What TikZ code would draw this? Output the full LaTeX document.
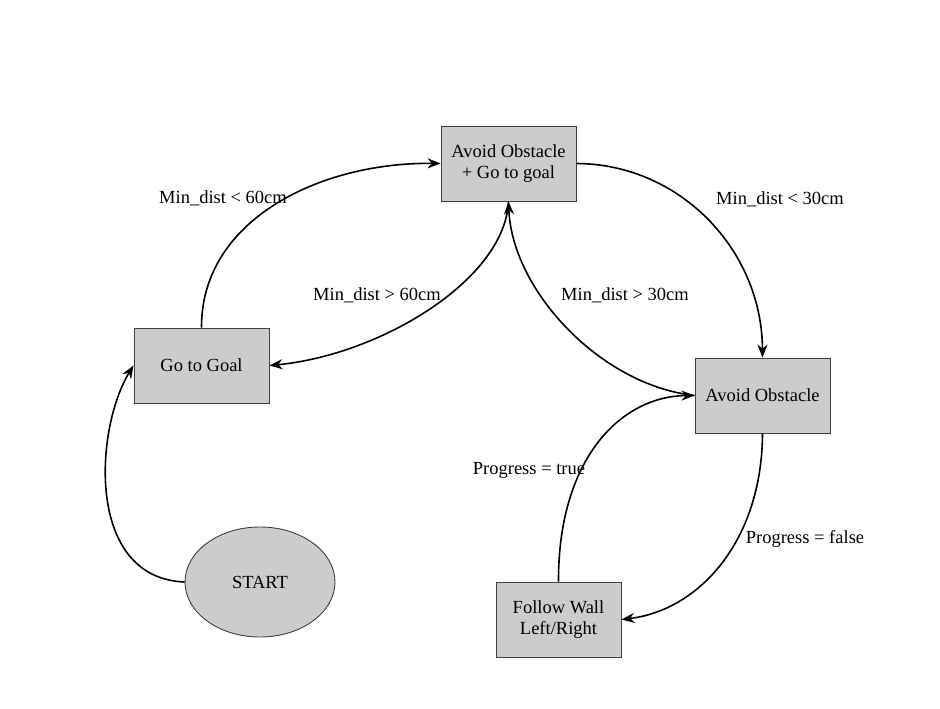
\documentclass[tikz,border=0pt]{standalone}
\usepackage{fontspec}
\setmainfont{Liberation Serif}
\usetikzlibrary{arrows.meta,shapes.geometric}
\tikzset{
  state/.style={draw=black!75, fill=black!20, line width=0.9pt, minimum width=135pt, minimum height=75pt, align=center, inner sep=2pt},
  startstate/.style={ellipse, draw=black!75, fill=black!20, line width=0.9pt, minimum width=150pt, minimum height=110pt, inner sep=0pt},
  trans/.style={line width=1.6pt, -{Stealth[length=13pt,width=10pt]}},
  cond/.style={inner sep=0.75pt}
}
\begin{document}
\begin{tikzpicture}[x=1pt,y=1pt,yscale=-1,xscale=1,font=\fontsize{18.5}{21.5}\selectfont]
\useasboundingbox (0,0) rectangle (940,709);
% states
\draw (508.5,163.5) node [state] (avoidgoal) {Avoid Obstacle\\+ Go to goal};
\draw (201.5,365.5) node [state] (gotogoal) {Go to Goal};
\draw (762.5,395.5) node [state] (avoid) {Avoid Obstacle};
\draw (558.5,619.5) node [state, minimum width=125pt] (wall) {Follow Wall\\Left/Right};
\draw (260,582) node [startstate] (start) {START};
% transitions
\draw [trans] (start.west) .. controls (85,578) and (95,428) .. (gotogoal.west);
\draw [trans] (gotogoal.north) .. controls (201,220) and (320,162) .. (avoidgoal.west);
\draw [trans] (avoidgoal.south) .. controls (505,280) and (380,355) .. (gotogoal.east);
\draw [trans] (avoid.west) .. controls (600,385) and (512,290) .. (avoidgoal.south);
\draw [trans] (avoidgoal.east) .. controls (680,164) and (762,250) .. (avoid.north);
\draw [trans] (avoid.south) .. controls (762,540) and (700,610) .. (wall.east);
\draw [trans] (wall.north) .. controls (558,460) and (620,396) .. (avoid.west);
% conditions
\draw (223,198) node [cond] (lt60) {Min\_dist < 60cm};
\draw (377,295) node [cond] (gt60) {Min\_dist > 60cm};
\draw (625,295) node [cond] (gt30) {Min\_dist > 30cm};
\draw (780,199) node [cond] (lt30) {Min\_dist < 30cm};
\draw (529,470) node [cond] (ptrue) {Progress = true};
\draw (805,539) node [cond] (pfalse) {Progress = false};
\end{tikzpicture}
\end{document}
